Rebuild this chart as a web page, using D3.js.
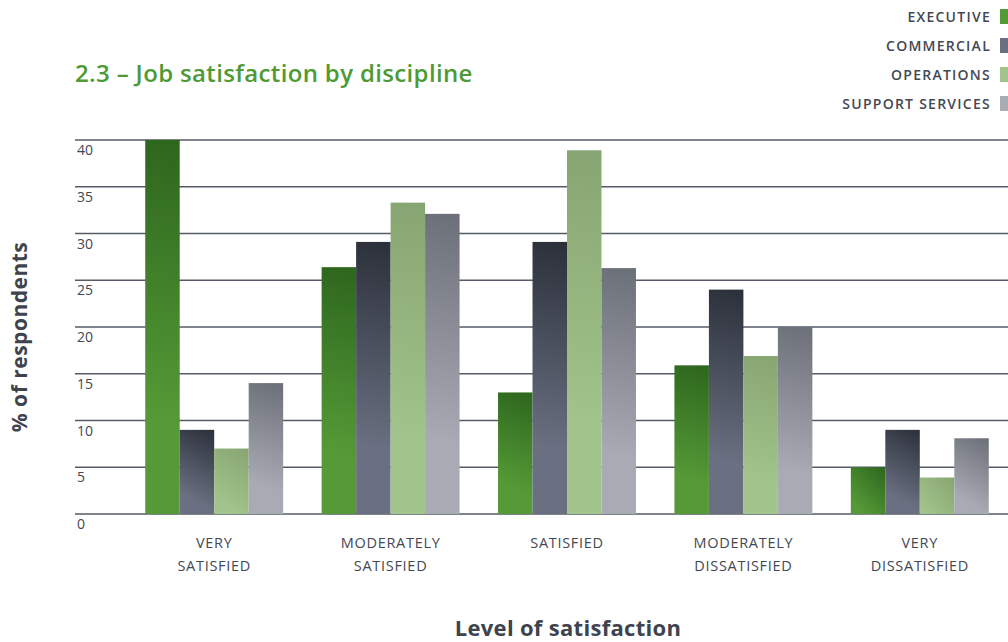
<!DOCTYPE html>
<html>
<head>
<meta charset="utf-8">
<script src="https://cdn.jsdelivr.net/npm/d3@7"></script>
<style>
  html, body { margin: 0; padding: 0; background: #fff; }
  svg { display: block; }
  text { font-family: "Open Sans", "Noto Sans", sans-serif; }
</style>
</head>
<body>
<svg id="chart" width="1008" height="642"></svg>
<script>
// Satisfaction levels (x categories)
const levels = ["Very satisfied", "Moderately satisfied", "Satisfied", "Moderately dissatisfied", "Very dissatisfied"];
const levelLabels = [["VERY", "SATISFIED"], ["MODERATELY", "SATISFIED"], ["SATISFIED"], ["MODERATELY", "DISSATISFIED"], ["VERY", "DISSATISFIED"]];

// Disciplines (series)
const disciplines = ["EXECUTIVE", "COMMERCIAL", "OPERATIONS", "SUPPORT SERVICES"];

// % of respondents per discipline, in the order of `levels`
const executive  = [40, 26.4, 13, 15.9, 5];
const commercial = [9, 29.1, 29.1, 24, 9];
const operations = [7, 33.3, 38.9, 16.9, 3.9];
const support    = [14, 32.1, 26.3, 20, 8.1];

const yTicks = [0, 5, 10, 15, 20, 25, 30, 35, 40];

const seriesValues = [executive, commercial, operations, support];

// Gradient end colours for each discipline: [dark top-right, light bottom-left]
const palette = [
  ["#2d661d", "#569a37"],
  ["#2b303a", "#6a7081"],
  ["#87a572", "#a2c38b"],
  ["#6b6f78", "#a9abb4"]
];

const svg = d3.select("#chart");
const defs = svg.append("defs");

const y = d3.scaleLinear().domain([0, 40]).range([514, 140]);
const x0 = d3.scaleBand().domain(levels).range([126, 1008]).paddingInner(0.218).paddingOuter(0.109);
const x1 = d3.scaleBand().domain(disciplines).range([0, x0.bandwidth()]);

const ink = "#434853";

// Gridlines
svg.append("g").selectAll("line").data(yTicks).join("line")
  .attr("x1", 75).attr("x2", 1008)
  .attr("y1", d => y(d)).attr("y2", d => y(d))
  .attr("stroke", "#555b66").attr("stroke-width", 1.3);

// Y tick labels (under each gridline)
svg.append("g").selectAll("text").data(yTicks).join("text")
  .attr("x", 77).attr("y", d => y(d) + 15)
  .attr("font-size", 14).attr("fill", ink)
  .text(d => d);

// Bars, each with its own diagonal gradient (dark top-right to light bottom-left)
const barData = [];
levels.forEach((lvl, li) => {
  disciplines.forEach((s, si) => {
    barData.push({ lvl, s, si, v: seriesValues[si][li], id: `bar${li}_${si}` });
  });
});
barData.forEach(d => {
  const bx = x0(d.lvl) + x1(d.s), w = x1.bandwidth();
  const top = y(d.v), h = y(0) - y(d.v);
  const g = defs.append("linearGradient")
    .attr("id", d.id).attr("gradientUnits", "userSpaceOnUse")
    .attr("x1", bx + w).attr("y1", top)
    .attr("x2", bx).attr("y2", top + h * 0.75);
  g.append("stop").attr("offset", 0).attr("stop-color", palette[d.si][0]);
  g.append("stop").attr("offset", 1).attr("stop-color", palette[d.si][1]);
});
svg.append("g").selectAll("rect").data(barData).join("rect")
  .attr("x", d => x0(d.lvl) + x1(d.s))
  .attr("width", x1.bandwidth())
  .attr("y", d => y(d.v))
  .attr("height", d => y(0) - y(d.v))
  .attr("fill", d => `url(#${d.id})`);

// Category labels
const catLabels = svg.append("g").selectAll("text").data(levels).join("text")
  .attr("text-anchor", "middle")
  .attr("font-size", 14.5).attr("fill", ink)
  .attr("letter-spacing", 0.7)
  .attr("transform", d => `translate(${x0(d) + x0.bandwidth() / 2},548)`);
catLabels.selectAll("tspan").data((d, i) => levelLabels[i]).join("tspan")
  .attr("x", 0).attr("dy", (d, i) => i === 0 ? 0 : 23)
  .text(d => d);

// Title
svg.append("text")
  .attr("x", 75).attr("y", 82)
  .attr("font-size", 24).attr("font-weight", 600).attr("fill", "#4e9a34")
  .attr("letter-spacing", 0.35)
  .text("2.3 – Job satisfaction by discipline");

// Legend
const legend = svg.append("g").selectAll("g").data(disciplines).join("g")
  .attr("transform", (d, i) => `translate(0,${17 + i * 29})`);
legend.append("text")
  .attr("x", 991).attr("y", 5)
  .attr("text-anchor", "end")
  .attr("font-size", 14).attr("font-weight", 600).attr("fill", ink)
  .attr("letter-spacing", 1.25)
  .text(d => d);
legend.append("rect")
  .attr("x", 1000).attr("y", -8).attr("width", 12).attr("height", 15)
  .attr("fill", (d, i) => palette[i][1]);

// Axis titles
svg.append("text")
  .attr("transform", "translate(27,337) rotate(-90)")
  .attr("text-anchor", "middle")
  .attr("font-size", 21).attr("font-weight", 700).attr("fill", "#3e434e")
  .attr("letter-spacing", 0.5)
  .text("% of respondents");
svg.append("text")
  .attr("x", 568).attr("y", 636)
  .attr("text-anchor", "middle")
  .attr("font-size", 22).attr("font-weight", 700).attr("fill", "#3e434e")
  .attr("letter-spacing", 0.3)
  .text("Level of satisfaction");
</script>
</body>
</html>
